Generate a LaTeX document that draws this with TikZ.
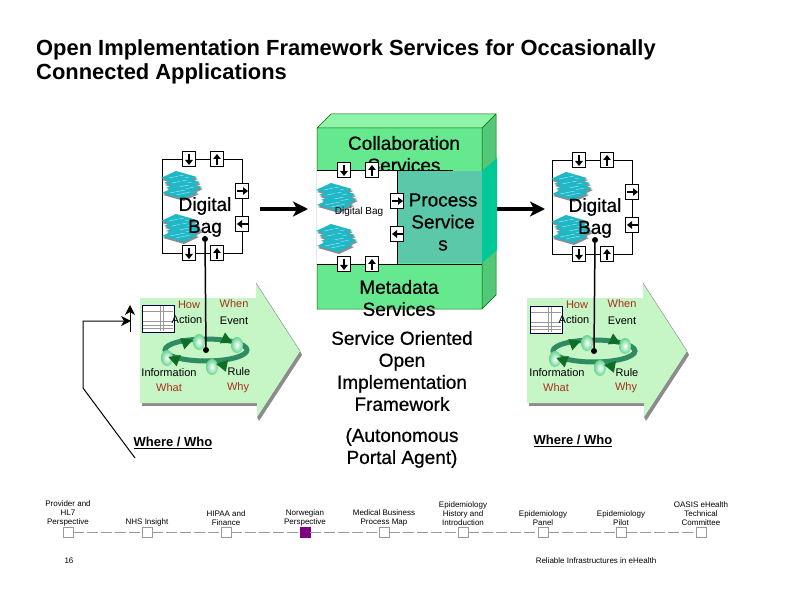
\documentclass[tikz,border=0pt]{standalone}
\usepackage{fontspec}
\setmainfont{Liberation Sans}
\usetikzlibrary{arrows.meta}
\definecolor{arrowgreen}{HTML}{C6F5C6}
\definecolor{redlbl}{HTML}{A8301C}
\definecolor{blockfront}{HTML}{66E88E}
\definecolor{blocktop}{HTML}{8CF5A8}
\definecolor{blockside}{HTML}{52C878}
\definecolor{procfront}{HTML}{5CC8AA}
\definecolor{procside}{HTML}{00C896}
\definecolor{stackteal}{HTML}{1FB8C4}
\definecolor{ringgreen}{HTML}{2E8B62}
\definecolor{tipgreen}{HTML}{0E6E24}
\definecolor{stopviolet}{HTML}{800080}
\newfontfamily\bigfont[FakeBold=0.6]{Liberation Sans}
\tikzset{
  x=1pt,y=-1pt,
  big/.style={font=\bigfont\fontsize{19}{22}\selectfont,align=center,inner sep=0pt},
  small/.style={font=\fontsize{11}{13}\selectfont,inner sep=0pt},
  lblred/.style={small,text=redlbl},
  tiny/.style={font=\fontsize{8}{9}\selectfont,align=center,inner sep=0pt},
  port/.style={draw=black,fill=white,line width=.7pt,minimum width=13.5pt,minimum height=15pt,inner sep=0pt},
  portarrow/.style={line width=2pt,-{Triangle[length=5pt,width=7.5pt]}},
  bigarrow/.style={line width=3.2pt,-{Stealth[length=15pt,width=15pt,inset=4pt]}},
  dot/.style={circle,fill=black,inner sep=0pt,minimum size=6pt},
  stop/.style={draw=black!40,fill=white,line width=.6pt,minimum size=10pt,inner sep=0pt},
  stopon/.style={draw=stopviolet,fill=stopviolet,line width=.6pt,minimum size=10pt,inner sep=0pt},
  stack/.pic={
    \foreach \dx/\dy in {-3/-7,0/-2,2/3,-2/8}{
      \fill[black!45,shift={(\dx+1,\dy+2)}] (-18,0)--(-3,-7)--(18,-1)--(3,6)--cycle;
      \fill[stackteal,shift={(\dx,\dy)}] (-18,0)--(-3,-7)--(18,-1)--(3,6)--cycle;
      \draw[white!60!cyan,line width=.5pt,shift={(\dx,\dy)}] (-10,0)--(5,-3) (-4,2)--(10,-1);
    }
  },
  form/.pic={
    \draw[draw=blue!30!black,fill=white,line width=.9pt] (0,0) rectangle (32,27);
    \draw[black!40,line width=.4pt] (1,6)--(31,6) (1,16)--(31,16) (1,20)--(31,20) (1,23)--(31,23) (18,1)--(18,26) (21,1)--(21,26);
  },
  cycle/.pic={
    \draw[ringgreen,line width=5pt] (0,0) ellipse [x radius=41,y radius=11];
    \foreach \bx/\by in {-7/-8,31/-5,6/17,-39/8}{
      \shade[inner color=white,outer color=teal!55!green!60] (\bx,\by) ellipse [x radius=6,y radius=8];
    }
    \foreach \ax/\ay/\ang in {-19/-8/20,21/-10/-25,16/15/170,-32/9/160}{
      \fill[tipgreen,shift={(\ax,\ay)},rotate=\ang] (6,0)--(-5,-6)--(-5,6)--cycle;
    }
    \node[dot] (-dot) at (0,0) {};
  },
  bag/.pic={
    \draw[line width=.7pt] (0,0) rectangle (80,94);
    \pic at (20,26) {stack};
    \pic at (20,69) {stack};
    \node[port] (-t1) at (27,0) {};
    \node[port] (-t2) at (55,0) {};
    \node[port] (-b1) at (27,94) {};
    \node[port] (-b2) at (55,94) {};
    \node[port] (-r1) at (80,32) {};
    \node[port] (-r2) at (80,65) {};
    \draw[portarrow] (27,-5)--(27,6);
    \draw[portarrow] (55,6)--(55,-5);
    \draw[portarrow] (27,89)--(27,100);
    \draw[portarrow] (55,100)--(55,89);
    \draw[portarrow] (75,32)--(86,32);
    \draw[portarrow] (86,65)--(75,65);
    \node[big] (-txt) at (43,58) {Digital\\Bag};
    \node[dot] (-dot) at (43,80) {};
  },
  flow/.pic={
    \fill[black!45] (2,118) rectangle (117,123);
    \fill[black!45] (160,68)--(162,72)--(119,138)--(117,134)--cycle;
    \fill[arrowgreen] (0,15)--(116,15)--(116,0)--(160,68)--(117,134)--(117,120)--(0,120)--cycle;
    \draw[black!50,line width=.4pt] (116,0)--(160,68);
  }
}
\begin{document}
\begin{tikzpicture}
\useasboundingbox (0,0) rectangle (792,612);
% title
\node[anchor=west,inner sep=0pt,font=\bfseries\fontsize{21.9}{24}\selectfont] (title1) at (36,50) {Open Implementation Framework Services for Occasionally};
\node[anchor=west,inner sep=0pt,font=\bfseries\fontsize{21.9}{24}\selectfont] (title2) at (36,74) {Connected Applications};
% flow arrows
\pic (lflow) at (140,283) {flow};
\pic (rflow) at (527,283) {flow};
% left bag
\pic (lbag) at (162,159) {bag};
\pic at (142,305) {form};
\pic (lcyc) at (206,350) {cycle};
\draw[line width=1.5pt] (lbag-dot) -- (lcyc-dot);
\node[lblred] (lhow) at (189,305) {How};
\node[lblred] (lwhen) at (234,304) {When};
\node[small] (lact) at (187,320) {Action};
\node[small] (levt) at (234,321) {Event};
\node[small] (linf) at (169,373) {Information};
\node[lblred] (lwhat) at (169,388) {What};
\node[small] (lrule) at (239,372) {Rule};
\node[lblred] (lwhy) at (238,388) {Why};
\node[inner sep=0pt,font=\bfseries\fontsize{13}{15}\selectfont] (lwho) at (173,443) {\underline{Where / Who}};
% feedback
\coordinate (fb0) at (135,458);
\coordinate (fb1) at (83,388);
\coordinate (fb2) at (83,321);
\coordinate (fb3) at (131,321);
\coordinate (up0) at (130,332);
\coordinate (up1) at (130,305);
\draw[line width=1pt,-{Stealth[length=10pt,width=10pt,inset=3pt]}] (fb0) -- (fb1) -- (fb2) -- (fb3);
\draw[line width=1pt,-{Stealth[length=10pt,width=10pt,inset=3pt]}] (up0) -- (up1);
% block
\fill[blocktop] (317,128)--(331,114)--(496,114)--(482,128)--cycle;
\fill[blockside] (482,128)--(496,114)--(496,295)--(482,309)--cycle;
\fill[blockfront] (317,128) rectangle (482,309);
\draw[black!45!green!70!black,line width=.5pt] (317,128)--(331,114)--(496,114)--(482,128)--cycle (482,128)--(482,309) (496,114)--(496,295)--(482,309)--(317,309)--(317,128);
\node[big] (collab) at (404,154) {Collaboration\\Services};
\fill[procside] (482,171)--(497,158)--(497,250)--(482,263)--cycle;
\fill[procfront] (397,171) rectangle (482,263);
\fill[white] (317,170) rectangle (397,264);
\draw[line width=.7pt] (317,170)--(453,170);
\draw[line width=.9pt] (317,264)--(482,264);
\draw[line width=.7pt] (397,170)--(397,264);
\node[big] (meta) at (399,298) {Metadata\\Services};
\node[big] (proc) at (443,222) {Process\\Service\\s};
\pic at (337,197) {stack};
\pic at (337,238) {stack};
\node[inner sep=0pt,font=\fontsize{10}{11}\selectfont] (cdb) at (359,212) {Digital Bag};
\node[port] (ct1) at (344,170) {};
\node[port] (ct2) at (372,170) {};
\node[port] (cb1) at (344,264) {};
\node[port] (cb2) at (372,264) {};
\node[port] (cr1) at (397,201) {};
\node[port] (cr2) at (397,234) {};
\draw[portarrow] (344,165)--(344,176);
\draw[portarrow] (372,176)--(372,165);
\draw[portarrow] (344,259)--(344,270);
\draw[portarrow] (372,270)--(372,259);
\draw[portarrow] (392,201)--(403,201);
\draw[portarrow] (403,234)--(392,234);
\node[big] (soa) at (402,371) {Service Oriented\\Open\\Implementation\\Framework};
\node[big] (apa) at (402,448) {(Autonomous\\Portal Agent)};
% big arrows
\coordinate (a1s) at (260,209); \coordinate (a1e) at (308,209);
\coordinate (a2s) at (497,209); \coordinate (a2e) at (545,209);
\draw[bigarrow] (a1s) -- (a1e);
\draw[bigarrow] (a2s) -- (a2e);
% right bag
\pic (rbag) at (552,160) {bag};
\pic at (530,306) {form};
\pic (rcyc) at (594,351) {cycle};
\draw[line width=1.5pt] (rbag-dot) -- (rcyc-dot);
\node[lblred] (rhow) at (577,305) {How};
\node[lblred] (rwhen) at (622,304) {When};
\node[small] (ract) at (574,320) {Action};
\node[small] (revt) at (622,321) {Event};
\node[small] (rinf) at (557,373) {Information};
\node[lblred] (rwhat) at (556,388) {What};
\node[small] (rrule) at (627,373) {Rule};
\node[lblred] (rwhy) at (626,388) {Why};
\node[inner sep=0pt,font=\bfseries\fontsize{13}{15}\selectfont] (rwho) at (573,441) {\underline{Where / Who}};
% timeline
\foreach \n/\x/\st in {1/68/stop,2/147/stop,3/226/stop,4/305/stopon,5/384/stop,6/463/stop,7/543/stop,8/621/stop,9/701/stop}{
  \node[\st] (s\n) at (\x,532) {};
}
\foreach \a/\b in {1/2,2/3,3/4,4/5,5/6,6/7,7/8,8/9}{
  \draw[black!40,line width=.6pt,dash pattern=on 11pt off 3pt] (s\a) -- (s\b);
}
\node[tiny,anchor=south] (l1) at (68,526) {Provider and\\HL7\\Perspective};
\node[tiny,anchor=south] (l2) at (147,526) {NHS Insight};
\node[tiny,anchor=south] (l3) at (226,526) {HIPAA and\\Finance};
\node[tiny,anchor=south] (l4) at (305,526) {Norwegian\\Perspective};
\node[tiny,anchor=south] (l5) at (384,526) {Medical Business\\Process Map};
\node[tiny,anchor=south] (l6) at (463,526) {Epidemiology\\History and\\Introduction};
\node[tiny,anchor=south] (l7) at (543,526) {Epidemiology\\Panel};
\node[tiny,anchor=south] (l8) at (621,526) {Epidemiology\\Pilot};
\node[tiny,anchor=south] (l9) at (701,526) {OASIS eHealth\\Technical\\Committee};
\node[tiny] (pg) at (69,561) {16};
\node[tiny] (foot) at (596,561) {Reliable Infrastructures in eHealth};
\end{tikzpicture}
\end{document}
